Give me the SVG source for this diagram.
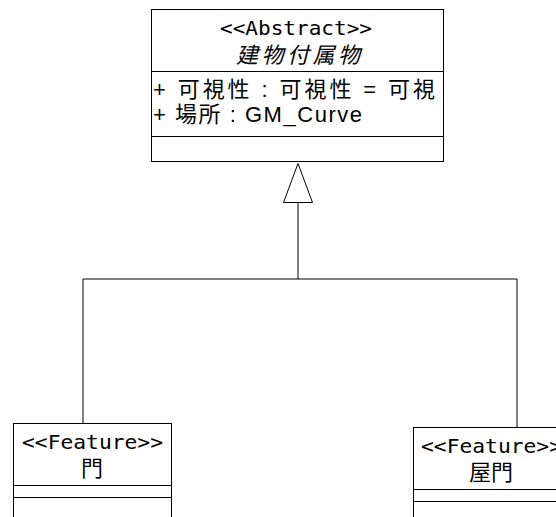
<svg xmlns="http://www.w3.org/2000/svg" width="556" height="517" viewBox="0 0 556 517">
<style>
.box{fill:#fff;stroke:#000;stroke-width:1}
.div{stroke:#000;stroke-width:1}
.t{font-family:"Liberation Sans","Noto Sans CJK JP",sans-serif;font-size:22px;fill:#000}
.m{font-family:"DejaVu Sans Mono","Noto Sans CJK JP",monospace;font-size:19px;fill:#000}
.j{font-family:"Noto Sans CJK JP",sans-serif;font-size:22px;fill:#000}
.c{text-anchor:middle}
.conn{stroke:#000;stroke-width:1;fill:none}
</style>
<rect width="556" height="517" fill="#fff"/>
<g id="connectors">
<polyline class="conn" points="83,423 83,279 517,279 517,427"/>
<line class="conn" x1="298" y1="279" x2="298" y2="202"/>
<polygon points="298,163.5 283.5,202.5 312.5,202.5" fill="#fff" stroke="#000" stroke-width="1"/>
</g>
<g id="node-abstract">
<rect class="box" x="151.5" y="9.5" width="292" height="152"/>
<line class="div" x1="151.5" y1="71.5" x2="443.5" y2="71.5"/>
<line class="div" x1="151.5" y1="136.5" x2="443.5" y2="136.5"/>
<text class="m" x="220" y="35" textLength="152" lengthAdjust="spacingAndGlyphs">&lt;&lt;Abstract&gt;&gt;</text>
<text class="j" x="236" y="63" font-style="italic" textLength="124">建物付属物</text>
<text class="t" x="153" y="97" textLength="282">+ 可視性 : 可視性 = 可視</text>
<text class="t" x="153" y="122" textLength="209">+ 場所 : GM_Curve</text>
</g>
<g id="node-mon">
<rect class="box" x="13.5" y="423.5" width="158" height="100"/>
<line class="div" x1="13.5" y1="485.5" x2="171.5" y2="485.5"/>
<line class="div" x1="13.5" y1="497.5" x2="171.5" y2="497.5"/>
<text class="m" x="22" y="449" textLength="141" lengthAdjust="spacingAndGlyphs">&lt;&lt;Feature&gt;&gt;</text>
<text class="j c" x="92" y="476">門</text>
</g>
<g id="node-okumon">
<rect class="box" x="413.5" y="427.5" width="158" height="100"/>
<line class="div" x1="413.5" y1="489.5" x2="571.5" y2="489.5"/>
<line class="div" x1="413.5" y1="501.5" x2="571.5" y2="501.5"/>
<text class="m" x="421" y="453" textLength="141" lengthAdjust="spacingAndGlyphs">&lt;&lt;Feature&gt;&gt;</text>
<text class="j c" x="491" y="480">屋門</text>
</g>
</svg>
